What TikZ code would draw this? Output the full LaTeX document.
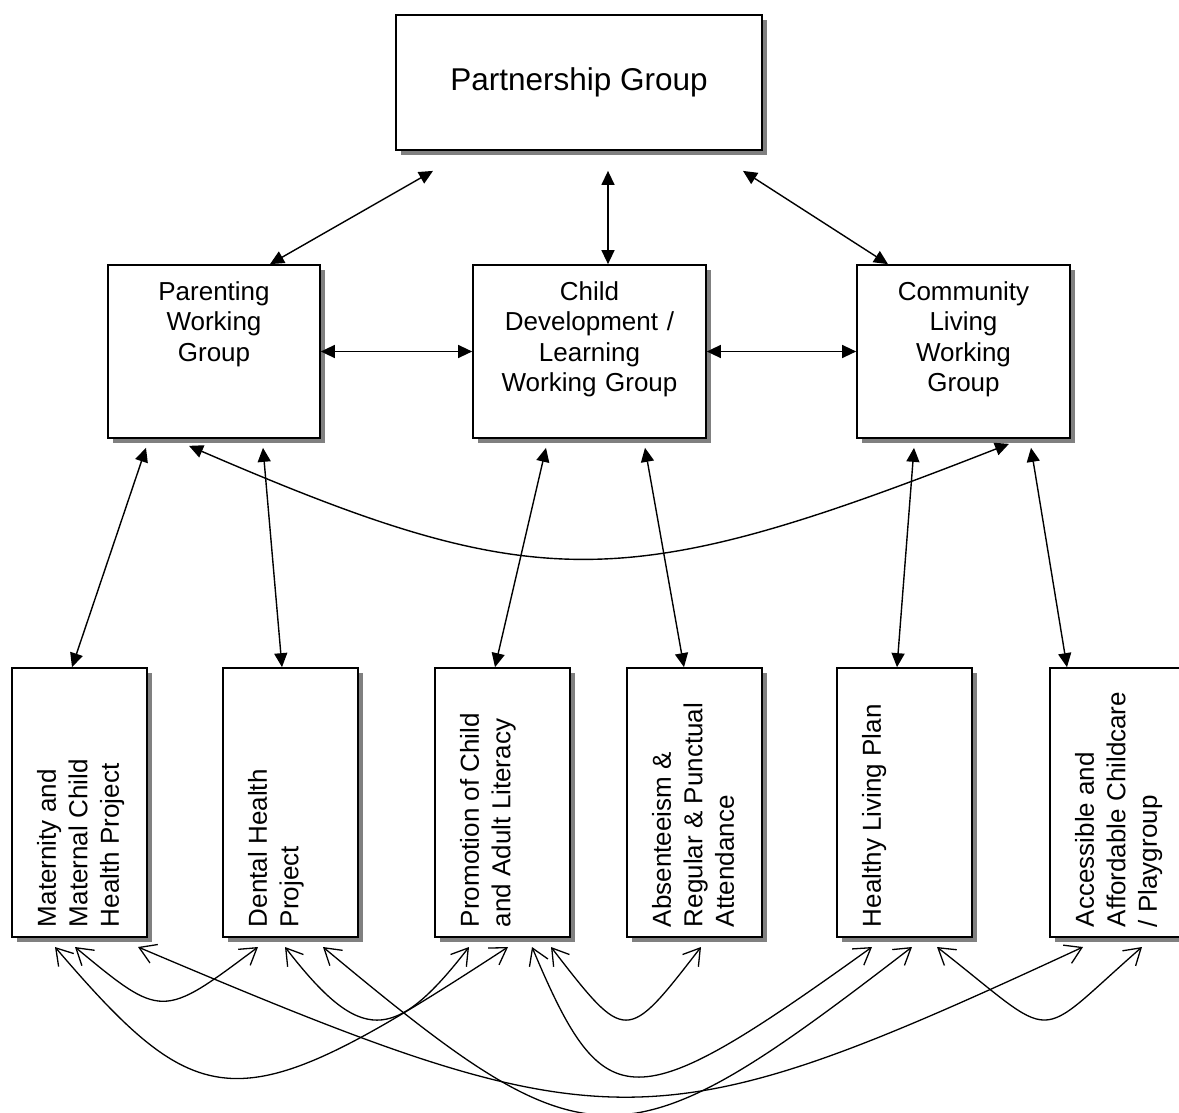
\documentclass[tikz,border=0pt]{standalone}
\usepackage{fontspec}
\setmainfont{Liberation Sans}
\usepackage{graphicx}
\usetikzlibrary{arrows.meta, shadows, positioning}

% text of the project boxes, read from bottom to top
\newcommand{\sidetext}[1]{\rotatebox{90}{\parbox[c][135pt][t]{269pt}{%
  \raggedright\leftskip=10pt\vspace*{25pt}#1}}}

\begin{document}
\begin{tikzpicture}[x=1pt, y=-1pt,
    boxshadow/.style={drop shadow={shadow xshift=5pt, shadow yshift=-5pt, fill=black!50, opacity=1}},
    topbox/.style={draw, line width=1.8pt, fill=white, boxshadow, minimum width=366pt, minimum height=135pt, inner sep=0pt, font=\fontsize{31.5}{38}\selectfont},
    wgbox/.style={draw, line width=1.7pt, fill=white, boxshadow, inner sep=0pt, align=center, text height=35pt, text depth=138pt, font=\fontsize{26}{30.5}\selectfont},
    projbox/.style={draw, line width=1.7pt, fill=white, boxshadow, minimum width=135pt, minimum height=269pt, inner sep=0pt, font=\fontsize{26}{31.5}\selectfont},
    arrow/.style={{Triangle[length=14pt,width=13pt]}-{Triangle[length=14pt,width=13pt]}, line width=1.4pt},
    openarrow/.style={{Straight Barb[length=16pt,width=20pt]}-{Straight Barb[length=16pt,width=20pt]}, line width=1.3pt}
]
    \useasboundingbox (0,0) rectangle (1179,1113);

    \node[topbox] (partner) at (579,82.5) {Partnership Group};

    \node[wgbox, text width=212pt] (parent) at (214,351.5) {Parenting\\Working\\Group};
    \node[wgbox, text width=233pt] (child) at (589.5,351.5) {Child\\Development /\\Learning\\Working Group};
    \node[wgbox, text width=213pt] (commun) at (963.5,351.5) {Community\\Living\\Working\\Group};

    \node[projbox] (mat) at (79.5,802.5) {\sidetext{Maternity and\\Maternal Child\\Health Project}};
    \node[projbox] (dental) at (290.5,802.5) {\sidetext{Dental Health\\Project}};
    \node[projbox] (promo) at (502.5,802.5) {\sidetext{Promotion of Child\\and Adult Literacy}};
    \node[projbox] (absent) at (694.5,802.5) {\sidetext{Absenteeism \&\\Regular \& Punctual\\Attendance}};
    \node[projbox] (healthy) at (904.5,802.5) {\sidetext{Healthy Living Plan}};
    \node[projbox] (access) at (1117.5,802.5) {\sidetext{Accessible and\\Affordable Childcare\\/ Playgroup}};

    % partnership to working groups
    \draw[arrow] ([xshift=-146pt,yshift=-20pt]partner.south) -- ([xshift=56pt]parent.north);
    \draw[arrow] ([xshift=29pt,yshift=-20pt]partner.south) -- ([xshift=18.5pt]child.north);
    \draw[arrow] ([xshift=164pt,yshift=-20pt]partner.south) -- ([xshift=-75.5pt]commun.north);

    % between working groups
    \draw[arrow] (parent.east) -- (child.west);
    \draw[arrow] (child.east) -- (commun.west);
    \draw[arrow] ([xshift=-25pt,yshift=-7pt]parent.south) .. controls +(350,151) and +(-385,151) .. ([xshift=45.5pt,yshift=-5pt]commun.south);

    % working groups to projects
    \draw[arrow] ([xshift=-68pt,yshift=-9pt]parent.south) -- ([xshift=-7.5pt]mat.north);
    \draw[arrow] ([xshift=49pt,yshift=-9pt]parent.south) -- ([xshift=-8.5pt]dental.north);
    \draw[arrow] ([xshift=-43.5pt,yshift=-9pt]child.south) -- ([xshift=-7.5pt]promo.north);
    \draw[arrow] ([xshift=55.5pt,yshift=-9pt]child.south) -- ([xshift=-10.5pt]absent.north);
    \draw[arrow] ([xshift=-49.5pt,yshift=-9pt]commun.south) -- ([xshift=-7.5pt]healthy.north);
    \draw[arrow] ([xshift=67.5pt,yshift=-9pt]commun.south) -- ([xshift=-50.5pt]access.north);

    % arrow ends under the projects
    \coordinate (m1) at (55,947);
    \coordinate (m2) at (75,947);
    \coordinate (m3) at (138,947);
    \coordinate (d1) at (258,947);
    \coordinate (d2) at (285,947);
    \coordinate (d3) at (323,947);
    \coordinate (p1) at (469,947);
    \coordinate (p2) at (508,947);
    \coordinate (p3) at (532,947);
    \coordinate (p4) at (551,947);
    \coordinate (b1) at (701,947);
    \coordinate (h1) at (872,947);
    \coordinate (h2) at (912,947);
    \coordinate (h3) at (937,947);
    \coordinate (c1) at (1083,947);
    \coordinate (c2) at (1142,947);

    % links between projects
    \draw[openarrow] (m2) .. controls +(87,72) and +(-96,72) .. (d1);
    \draw[openarrow] (m1) .. controls +(150,175) and +(-268,175) .. (p2);
    \draw[openarrow] (m3) .. controls +(472,200) and +(-432,200) .. (c1);
    \draw[openarrow] (d2) .. controls +(75,97) and +(-75,97) .. (p1);
    \draw[openarrow] (d3) .. controls +(269,224) and +(-291,224) .. (h2);
    \draw[openarrow] (p3) .. controls +(73,173) and +(-241,173) .. (h1);
    \draw[openarrow] (p4) .. controls +(75,97) and +(-75,97) .. (b1);
    \draw[openarrow] (h3) .. controls +(124,97) and +(-111,97) .. (c2);
\end{tikzpicture}
\end{document}
